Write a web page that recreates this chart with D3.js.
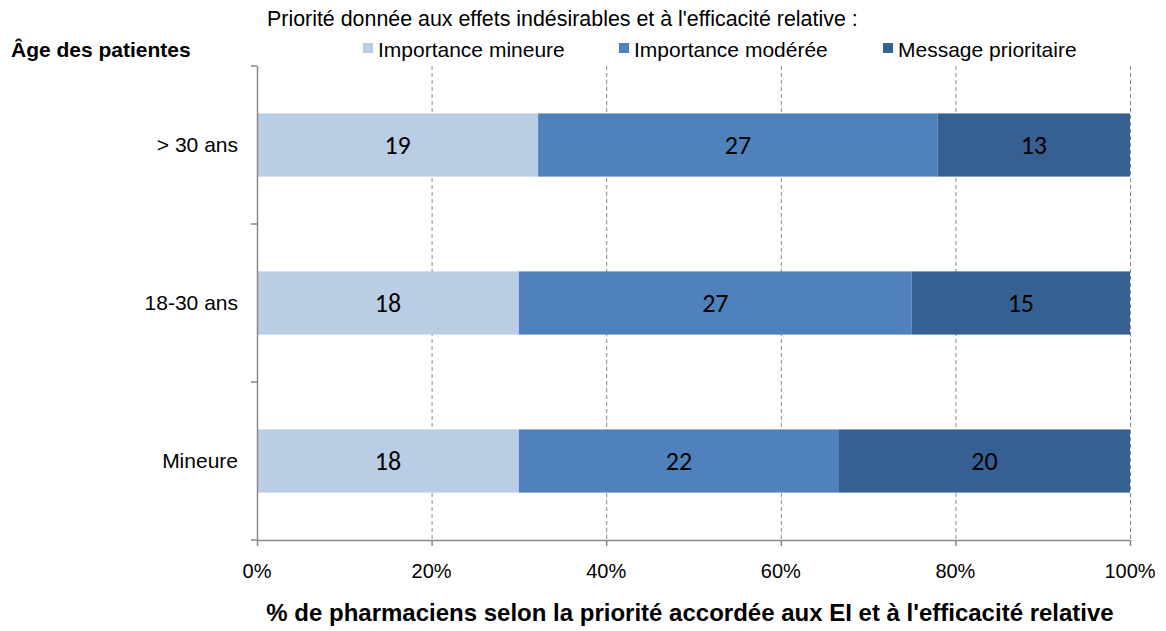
<!DOCTYPE html>
<html>
<head>
<meta charset="utf-8">
<script src="https://cdn.jsdelivr.net/npm/d3@7"></script>
<style>
  body { margin: 0; background: #fff; }
  text { font-family: "Liberation Sans", Arial, sans-serif; fill: #000; }
  .lbl { font-family: Carlito, Lato, "Open Sans", sans-serif; }
</style>
</head>
<body>
<svg id="chart" width="1166" height="631"></svg>
<script>
// data
var categories = ["> 30 ans", "18-30 ans", "Mineure"];
var seriesNames = ["Importance mineure", "Importance modérée", "Message prioritaire"];
var mineure = [19, 18, 18];
var moderee = [27, 27, 22];
var prioritaire = [13, 15, 20];
var tickValues = [0, 0.2, 0.4, 0.6, 0.8, 1];
var colors = ["#B9CDE5", "#4F81BD", "#376092"];

var svg = d3.select("#chart");
var plotL = 257, plotR = 1130, plotT = 66, plotB = 540;

var x = d3.scaleLinear().domain([0, 1]).range([plotL, plotR]);
var y = d3.scaleBand().domain(categories).range([plotT, plotB]).paddingInner(0.6).paddingOuter(0.3);
var band = d3.scaleBand().domain(categories).range([plotT, plotB]);

// build stacked percent rows
var rows = categories.map(function(c, i) {
  return {cat: c, vals: [mineure[i], moderee[i], prioritaire[i]]};
});
var stack = d3.stack().keys([0, 1, 2]).value(function(d, k) { return d.vals[k]; }).offset(d3.stackOffsetExpand);
var layers = stack(rows);

// gridlines
svg.append("g").selectAll("line")
  .data(tickValues.slice(1))
  .enter().append("line")
  .attr("x1", function(d) { return x(d) + 0.5; })
  .attr("x2", function(d) { return x(d) + 0.5; })
  .attr("y1", plotT).attr("y2", plotB)
  .attr("stroke", "#888").attr("stroke-width", 1)
  .attr("stroke-dasharray", "4,3");

// bars
var g = svg.append("g");
layers.forEach(function(layer, k) {
  g.append("g").selectAll("rect")
    .data(layer)
    .enter().append("rect")
    .attr("x", function(d) { return x(d[0]); })
    .attr("width", function(d) { return x(d[1]) - x(d[0]); })
    .attr("y", function(d) { return y(d.data.cat); })
    .attr("height", y.bandwidth())
    .attr("fill", colors[k]);
  g.append("g").selectAll("text")
    .data(layer)
    .enter().append("text")
    .attr("class", "lbl")
    .attr("x", function(d) { return (x(d[0]) + x(d[1])) / 2; })
    .attr("y", function(d) { return y(d.data.cat) + y.bandwidth() / 2 + 9; })
    .attr("text-anchor", "middle")
    .style("font-size", "26px")
    .text(function(d) { return d.data.vals[k]; });
});

// y axis
svg.append("line")
  .attr("x1", plotL + 0.5).attr("x2", plotL + 0.5)
  .attr("y1", plotT).attr("y2", plotB)
  .attr("stroke", "#888").attr("stroke-width", 1.5);
var yTicks = categories.map(function(c) { return band(c); }).concat([plotB]);
svg.append("g").selectAll("line")
  .data(yTicks)
  .enter().append("line")
  .attr("x1", plotL - 6).attr("x2", plotL)
  .attr("y1", function(d) { return d; }).attr("y2", function(d) { return d; })
  .attr("stroke", "#888").attr("stroke-width", 1.5);
svg.append("g").selectAll("text")
  .data(categories)
  .enter().append("text")
  .attr("x", 238)
  .attr("y", function(d) { return band(d) + band.bandwidth() / 2 + 7; })
  .attr("text-anchor", "end")
  .style("font-size", "21px")
  .text(function(d) { return d; });

// x axis
svg.append("line")
  .attr("x1", plotL).attr("x2", plotR)
  .attr("y1", plotB + 0.5).attr("y2", plotB + 0.5)
  .attr("stroke", "#888").attr("stroke-width", 1.5);
svg.append("g").selectAll("line")
  .data(tickValues)
  .enter().append("line")
  .attr("x1", function(d) { return x(d) + 0.5; })
  .attr("x2", function(d) { return x(d) + 0.5; })
  .attr("y1", plotB).attr("y2", plotB + 6)
  .attr("stroke", "#888").attr("stroke-width", 1.5);
svg.append("g").selectAll("text")
  .data(tickValues)
  .enter().append("text")
  .attr("x", function(d) { return x(d); })
  .attr("y", 578)
  .attr("text-anchor", "middle")
  .style("font-size", "20px")
  .text(d3.format(".0%"));

// titles
svg.append("text")
  .attr("x", 11).attr("y", 57)
  .style("font-size", "21px").style("font-weight", "bold")
  .text("Âge des patientes");
svg.append("text")
  .attr("x", 690).attr("y", 621)
  .attr("text-anchor", "middle")
  .style("font-size", "24px").style("font-weight", "bold")
  .text("% de pharmaciens selon la priorité accordée aux EI et à l'efficacité relative");

// legend
svg.append("text")
  .attr("x", 267).attr("y", 26)
  .style("font-size", "21.4px")
  .text("Priorité donnée aux effets indésirables et à l'efficacité relative :");
var legX = [363, 619, 883];
var leg = svg.append("g").selectAll("g")
  .data(seriesNames)
  .enter().append("g")
  .attr("transform", function(d, i) { return "translate(" + legX[i] + ",0)"; });
leg.append("rect")
  .attr("x", 0).attr("y", 43).attr("width", 10).attr("height", 10)
  .attr("fill", function(d, i) { return colors[i]; });
leg.append("text")
  .attr("x", 15).attr("y", 57)
  .style("font-size", "21px")
  .text(function(d) { return d; });
</script>
</body>
</html>
